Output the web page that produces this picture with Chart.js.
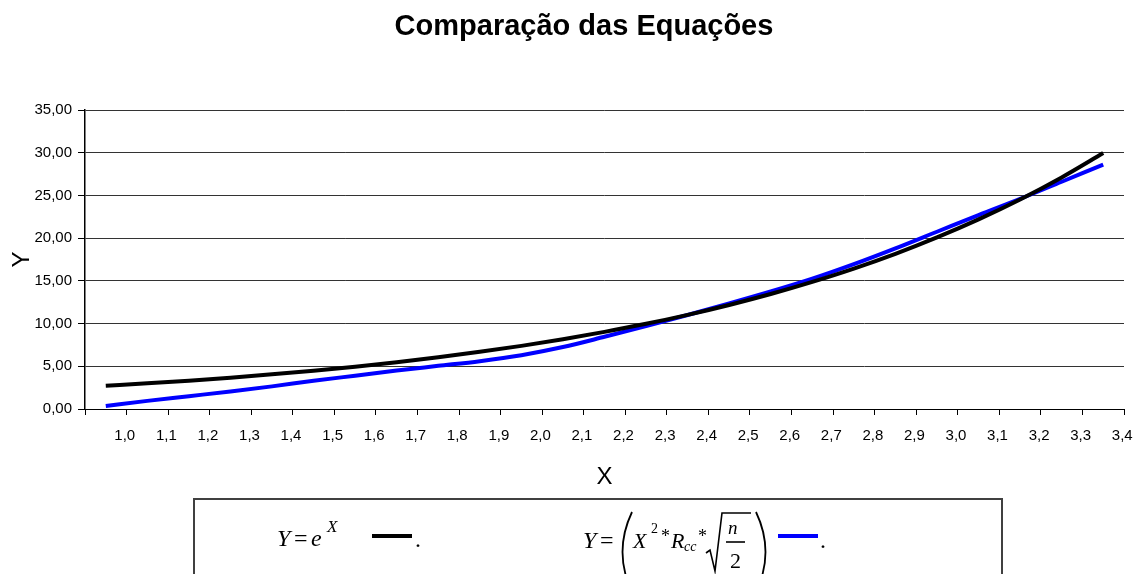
<!DOCTYPE html>
<html>
<head>
<meta charset="utf-8">
<script src="https://cdn.jsdelivr.net/npm/chart.js@4.4.1/dist/chart.umd.min.js"></script>
<style>
  html, body { margin: 0; padding: 0; background: #fff; }
  #wrap { position: relative; width: 1144px; height: 574px; }
</style>
</head>
<body>
<div id="wrap"><canvas id="c"></canvas></div>
<script>
// ---- data ----
const categories = ['1,0','1,1','1,2','1,3','1,4','1,5','1,6','1,7','1,8','1,9','2,0','2,1','2,2','2,3','2,4','2,5','2,6','2,7','2,8','2,9','3,0','3,1','3,2','3,3','3,4'];
const seriesExp = [2.72, 3.00, 3.32, 3.67, 4.06, 4.48, 4.95, 5.47, 6.05, 6.69, 7.39, 8.17, 9.03, 9.97, 11.02, 12.18, 13.46, 14.88, 16.44, 18.17, 20.09, 22.20, 24.53, 27.11, 29.96];
const seriesPoly = [0.35, 0.95, 1.50, 2.05, 2.65, 3.30, 3.90, 4.50, 5.05, 5.60, 6.30, 7.25, 8.45, 9.70, 11.00, 12.35, 13.75, 15.25, 16.95, 18.80, 20.75, 22.70, 24.60, 26.60, 28.60];
const yTicksMin = 0, yTicksMax = 35, yTickStep = 5;
const chartTitle = 'Comparação das Equações';
const xTitle = 'X', yTitle = 'Y';

const SANS = '"Liberation Sans", Arial, sans-serif';
const SERIF = '"Liberation Serif", "Times New Roman", serif';

const titleAndLegend = {
  id: 'titleAndLegend',
  afterDraw(chart) {
    const ctx = chart.ctx;
    ctx.save();
    // chart title
    ctx.fillStyle = '#000';
    ctx.textAlign = 'center';
    ctx.textBaseline = 'alphabetic';
    ctx.font = 'bold 29px ' + SANS;
    ctx.fillText(chartTitle, 584, 35);
    // legend box
    ctx.textAlign = 'left';
    ctx.fillStyle = '#ffffff';
    ctx.fillRect(193, 498, 810, 100);
    ctx.strokeStyle = '#404040';
    ctx.lineWidth = 2;
    ctx.strokeRect(194, 499, 808, 100);
    ctx.fillStyle = '#000';
    const it = (s) => 'italic ' + s + 'px ' + SERIF;
    const rm = (s) => s + 'px ' + SERIF;
    // first entry: Y = e^X
    ctx.font = it(24); ctx.fillText('Y', 277, 546);
    ctx.font = rm(24); ctx.fillText('=', 294, 546);
    ctx.font = it(24); ctx.fillText('e', 311, 546);
    ctx.font = it(17); ctx.fillText('X', 327, 532);
    ctx.strokeStyle = '#000'; ctx.lineWidth = 4;
    ctx.beginPath(); ctx.moveTo(372, 536); ctx.lineTo(412, 536); ctx.stroke();
    ctx.font = rm(24); ctx.fillText('.', 415, 547);
    // second entry
    ctx.font = it(24); ctx.fillText('Y', 583, 548);
    ctx.font = rm(24); ctx.fillText('=', 600, 548);
    ctx.lineWidth = 1.8; ctx.strokeStyle = '#000';
    ctx.beginPath(); ctx.moveTo(632, 512); ctx.quadraticCurveTo(613, 552, 632, 592); ctx.stroke();
    ctx.beginPath(); ctx.moveTo(756, 512); ctx.quadraticCurveTo(775, 552, 756, 592); ctx.stroke();
    ctx.font = it(22); ctx.fillText('X', 633, 548);
    ctx.font = rm(14); ctx.fillText('2', 651, 533);
    ctx.font = rm(18); ctx.fillText('*', 661, 542);
    ctx.font = it(22); ctx.fillText('R', 671, 548);
    ctx.font = it(14); ctx.fillText('cc', 684, 551);
    ctx.font = rm(18); ctx.fillText('*', 698, 542);
    ctx.lineWidth = 1.6;
    ctx.beginPath();
    ctx.moveTo(706, 553); ctx.lineTo(710, 550); ctx.lineTo(715, 571); ctx.lineTo(722, 513); ctx.lineTo(751, 513);
    ctx.stroke();
    ctx.font = it(19); ctx.fillText('n', 728, 534);
    ctx.beginPath(); ctx.moveTo(726, 542); ctx.lineTo(745, 542); ctx.stroke();
    ctx.font = rm(22); ctx.fillText('2', 730, 568);
    ctx.strokeStyle = '#0000ff'; ctx.lineWidth = 4;
    ctx.beginPath(); ctx.moveTo(778, 536); ctx.lineTo(818, 536); ctx.stroke();
    ctx.font = rm(24); ctx.fillText('.', 820, 548);
    ctx.restore();
  }
};

new Chart(document.getElementById('c'), {
  type: 'line',
  data: {
    labels: categories,
    datasets: [
      { label: 'Y = e^X', data: seriesExp, borderColor: '#000000', backgroundColor: '#000000',
        borderWidth: 4, pointRadius: 0, cubicInterpolationMode: 'monotone', fill: false },
      { label: 'Y = (X² * Rcc * √(n/2))', data: seriesPoly, borderColor: '#0000ff', backgroundColor: '#0000ff',
        borderWidth: 4, pointRadius: 0, cubicInterpolationMode: 'monotone', fill: false }
    ]
  },
  options: {
    responsive: true,
    maintainAspectRatio: false,
    animation: false,
    layout: { padding: { left: 0, right: 20, top: 110, bottom: 82 } },
    plugins: {
      legend: { display: false },
      tooltip: { enabled: false },
      title: { display: false }
    },
    scales: {
      x: {
        type: 'category',
        offset: true,
        afterFit(scale) { scale.height = 83; },
        grid: { display: true, drawOnChartArea: false, drawTicks: true, tickLength: 6, tickColor: '#000', offset: true },
        border: { display: true, color: '#000', width: 1 },
        ticks: { color: '#000', font: { family: SANS, size: 15 }, padding: 12, labelOffset: 19,
                 autoSkip: false, maxRotation: 0, minRotation: 0 },
        title: { display: true, text: xTitle, color: '#000', font: { family: SANS, size: 24 }, padding: { top: 0, bottom: 0 } }
      },
      y: {
        min: yTicksMin, max: yTicksMax,
        afterFit(scale) { scale.width = 85; },
        grid: { color: '#333333', lineWidth: 1, tickLength: 7, tickColor: '#000' },
        border: { display: true, color: '#000', width: 1.5 },
        ticks: { stepSize: yTickStep, color: '#000', font: { family: SANS, size: 15 }, padding: 6,
                 callback: (v) => Number(v).toFixed(2).replace('.', ',') },
        title: { display: true, text: yTitle, color: '#000', font: { family: SANS, size: 24 }, padding: { top: 8, bottom: 0 } }
      }
    }
  },
  plugins: [titleAndLegend]
});
</script>
</body>
</html>
